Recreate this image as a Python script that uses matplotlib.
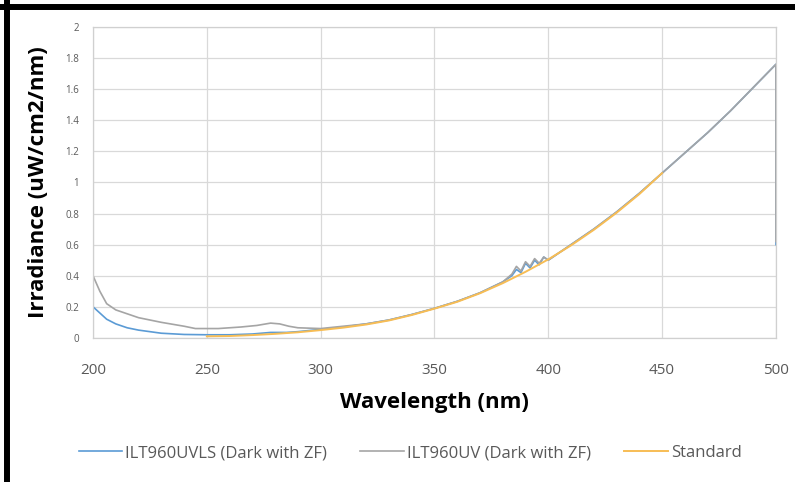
import matplotlib.pyplot as plt
from matplotlib.lines import Line2D

# wavelength (nm) and irradiance (uW/cm2/nm)
uvls_wl = [200, 203, 206, 210, 215, 220, 225, 230, 240, 250, 260, 270, 278, 285,
           290, 300, 310, 320, 330, 340, 350, 360, 370, 380, 384, 386, 388, 390, 392,
           394, 396, 398, 400, 410, 420, 430, 440, 450, 460, 470, 480, 490, 500, 500]
uvls_val = [0.20, 0.16, 0.12, 0.09, 0.065, 0.05, 0.04, 0.03, 0.022, 0.02, 0.02,
            0.025, 0.035, 0.035, 0.04, 0.055, 0.07, 0.09, 0.115, 0.15, 0.19, 0.235,
            0.29, 0.36, 0.40, 0.44, 0.42, 0.48, 0.45, 0.50, 0.47, 0.52, 0.50, 0.60,
            0.70, 0.81, 0.93, 1.06, 1.19, 1.32, 1.46, 1.61, 1.76, 0.60]

uv_wl = [200, 203, 206, 210, 215, 220, 230, 240, 245, 255, 265, 272, 278, 282,
         286, 290, 300, 310, 320, 330, 340, 350, 360, 370, 380, 384, 386, 388, 390,
         392, 394, 396, 398, 400, 410, 420, 430, 440, 450, 460, 470, 480, 490, 500, 500]
uv_val = [0.40, 0.30, 0.22, 0.18, 0.155, 0.13, 0.10, 0.075, 0.06, 0.06, 0.07,
          0.08, 0.095, 0.09, 0.075, 0.065, 0.06, 0.075, 0.09, 0.115, 0.15, 0.19, 0.235,
          0.29, 0.36, 0.41, 0.46, 0.43, 0.49, 0.46, 0.51, 0.48, 0.52, 0.50, 0.60,
          0.70, 0.81, 0.93, 1.06, 1.19, 1.32, 1.46, 1.61, 1.76, 0.62]

std_wl = [250, 260, 270, 280, 290, 300, 310, 320, 330, 340, 350, 360, 370, 380, 390,
          400, 410, 420, 430, 440, 450]
std_val = [0.01, 0.012, 0.018, 0.026, 0.036, 0.05, 0.066, 0.086, 0.112, 0.147, 0.188,
           0.232, 0.287, 0.352, 0.425, 0.505, 0.595, 0.695, 0.805, 0.925, 1.06]

x_ticks = [200, 250, 300, 350, 400, 450, 500]
y_ticks = [0, 0.2, 0.4, 0.6, 0.8, 1, 1.2, 1.4, 1.6, 1.8, 2]
y_tick_labels = ["0", "0.2", "0.4", "0.6", "0.8", "1", "1.2", "1.4", "1.6", "1.8", "2"]

plt.rcParams["font.family"] = ["Open Sans", "DejaVu Sans"]

fig = plt.figure(figsize=(7.95, 4.82), dpi=100)
ax = fig.add_axes([0.117, 0.299, 0.859, 0.645])

ax.plot(uvls_wl, uvls_val, color="#5b9bd5", lw=1.2, label="ILT960UVLS (Dark with ZF)")
ax.plot(uv_wl, uv_val, color="#a5a5a5", lw=1.2, label="ILT960UV (Dark with ZF)")
ax.plot(std_wl, std_val, color="#f7bd55", lw=1.4, label="Standard")

ax.set_xlim(200, 500)
ax.set_ylim(0, 2)
ax.set_xticks(x_ticks)
ax.set_yticks(y_ticks)
ax.set_yticklabels(y_tick_labels)
ax.tick_params(axis="x", length=0, pad=18, labelsize=11, labelcolor="#595959")
ax.tick_params(axis="y", length=0, pad=10, labelsize=7, labelcolor="#595959")
ax.grid(True, color="#d9d9d9", lw=0.9)
ax.set_axisbelow(True)
for side, spine in ax.spines.items():
    spine.set_color("#d0d0d0")
    spine.set_linewidth(0.9)

ax.set_xlabel("Wavelength (nm)", fontsize=16, fontweight="bold", labelpad=10)
ax.set_ylabel("Irradiance (uW/cm2/nm)", fontsize=16, fontweight="bold", labelpad=12)

leg = fig.legend(loc="center", bbox_to_anchor=(0.516, 0.06), ncol=3, frameon=False,
                 fontsize=12, handlelength=2.6, columnspacing=2.0, handletextpad=0.2)
for t in leg.get_texts():
    t.set_color("#595959")

# black border on left and top edges
fig.add_artist(Line2D([7 / 795, 7 / 795], [0, 1], transform=fig.transFigure,
                      color="black", lw=4.3))
fig.add_artist(Line2D([0, 1], [1 - 7 / 482, 1 - 7 / 482], transform=fig.transFigure,
                      color="black", lw=4.3))

fig.savefig("out.png", dpi=100)
plt.close(fig)
